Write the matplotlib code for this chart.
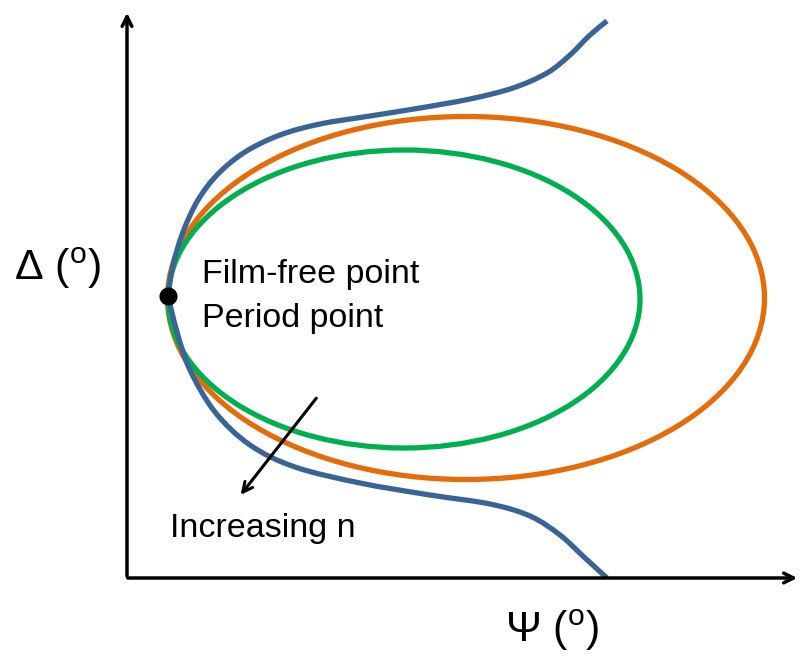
import numpy as np
import matplotlib.pyplot as plt
from matplotlib.path import Path
from matplotlib.patches import PathPatch, Ellipse

plt.rcParams['font.family'] = ['Liberation Sans', 'DejaVu Sans']
plt.rcParams['mathtext.fontset'] = 'custom'
plt.rcParams['mathtext.rm'] = 'Liberation Sans'

# schematic coordinates (psi to the right, delta downwards as drawn)
blue_top_psi = [168, 173, 183, 198, 218, 245, 280, 320, 370, 420, 470, 513, 547, 570, 590, 607]
blue_top_delta = [296, 265, 232, 200, 174, 152, 135, 124, 116, 108, 99, 88, 73, 55, 35, 21]
blue_bot_psi = [168, 177, 190, 215, 250, 295, 360, 430, 490, 530, 560, 585, 607]
blue_bot_delta = [296, 332, 370, 412, 445, 467, 483, 495, 504, 516, 535, 558, 578]

# ellipses: (centre psi, centre delta, width, height)
orange_ell = (466, 298, 597, 363)
green_ell = (404, 299, 472, 298)

film_free = (168, 296)


def smooth_path(xs, ys):
    # Catmull-Rom through the given points, written as cubic Bezier segments
    pts = np.column_stack([xs, ys]).astype(float)
    p = np.vstack([pts[0], pts, pts[-1]])
    verts = [pts[0]]
    codes = [Path.MOVETO]
    for i in range(1, len(p) - 2):
        c1 = p[i] + (p[i + 1] - p[i - 1]) / 6
        c2 = p[i + 1] - (p[i + 2] - p[i]) / 6
        verts += [c1, c2, p[i + 1]]
        codes += [Path.CURVE4] * 3
    return Path(verts, codes)


fig = plt.figure(figsize=(8, 6.57), dpi=100)
ax = fig.add_axes([0, 0, 1, 1])
ax.set_xlim(0, 800)
ax.set_ylim(657, 0)
ax.axis('off')

lw = 3.8
for (cx, cy, w, h), col in [(orange_ell, '#E46C0A'), (green_ell, '#00B050')]:
    ax.add_patch(Ellipse((cx, cy), w, h, fill=False, edgecolor=col, lw=lw, zorder=2))

for xs, ys in [(blue_top_psi, blue_top_delta), (blue_bot_psi, blue_bot_delta)]:
    ax.add_patch(PathPatch(smooth_path(xs, ys), fill=False, edgecolor='#3B6496', lw=lw,
                           capstyle='butt', zorder=3))

ax.plot(*film_free, 'o', color='black', ms=12, zorder=4)

# axes arrows
ax.annotate('', xy=(127, 10), xytext=(127, 579),
            arrowprops=dict(arrowstyle='->,head_length=0.7,head_width=0.35', lw=2.5, color='black'))
ax.annotate('', xy=(800, 578), xytext=(125, 578),
            arrowprops=dict(arrowstyle='->,head_length=0.7,head_width=0.35', lw=2.5, color='black'))

# increasing n arrow
ax.annotate('', xy=(239, 497), xytext=(318, 396),
            arrowprops=dict(arrowstyle='->,head_length=0.7,head_width=0.35', lw=2.2, color='black'),
            zorder=5)

ax.text(202, 275, 'Film-free point', fontsize=24.5, va='center', ha='left')
ax.text(202, 318, 'Period point', fontsize=24.5, va='center', ha='left')
ax.text(170, 528, 'Increasing n', fontsize=24.5, va='center', ha='left')

ax.text(14, 268, r'Δ ($^{\mathrm{o}}$)', fontsize=31, va='center', ha='left')
ax.text(505, 630, r'Ψ ($^{\mathrm{o}}$)', fontsize=31, va='center', ha='left')

fig.savefig('out.png', dpi=100)
